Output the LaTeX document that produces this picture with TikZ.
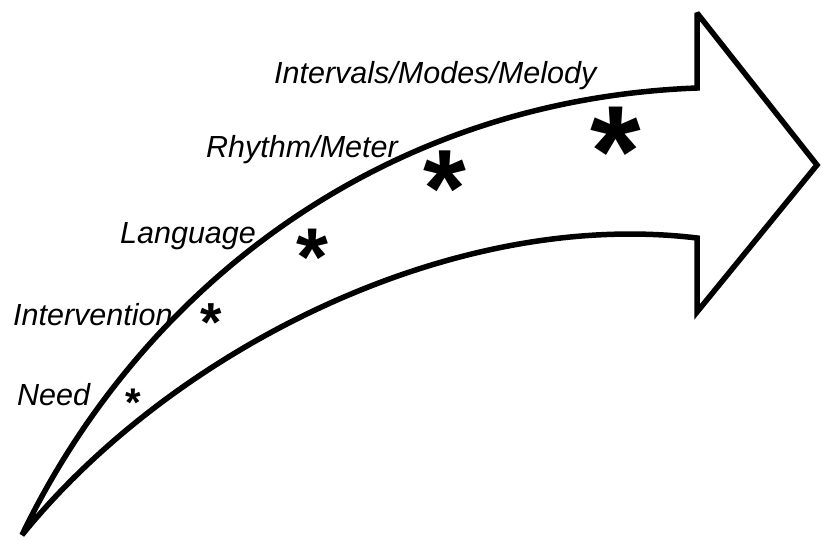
\documentclass[tikz,border=0pt]{standalone}
\usepackage{fontspec}
\setmainfont{Liberation Sans}
\usetikzlibrary{calc}

\tikzset{
  bigarrow/.style={draw=black, line width=5.5pt, line join=miter, miter limit=3, fill=white},
  stagelabel/.style={anchor=base west, inner sep=0pt,
    font=\fontsize{30.5}{36}\selectfont\itshape},
  stagestar/.style={anchor=base, inner sep=0pt}
}

\begin{document}
\begin{tikzpicture}[x=1pt, y=-1pt]
  \useasboundingbox (0,0) rectangle (823,539);

  % corner points of the curved block arrow
  \coordinate (tail)   at (22,535);
  \coordinate (uppend) at (697,88);
  \coordinate (barbtop) at (697,13);
  \coordinate (head)   at (817,165);
  \coordinate (barbbot) at (697,312);
  \coordinate (lowend) at (697,238);

  \path[bigarrow] (tail) .. controls (140,290) and (380,100) .. (uppend)
    -- (barbtop) -- (head) -- (barbbot) -- (lowend)
    .. controls (450,208) and (170,352) .. (tail) -- cycle;

  % stage names along the upper edge
  \node[stagelabel] (need)  at (17,405)  {Need};
  \node[stagelabel] (intv)  at (13,325)  {Intervention};
  \node[stagelabel] (lang)  at (120,243) {Language};
  \node[stagelabel] (rhy)   at (206,157) {Rhythm/Meter};
  \node[stagelabel] (mel)   at (274,83)  {Intervals/Modes/Melody};

  % growing asterisks inside the arrow
  \node[stagestar, font=\fontsize{40}{40}\selectfont\bfseries]  (s1) at (133,416) {*};
  \node[stagestar, font=\fontsize{55}{55}\selectfont\bfseries]  (s2) at (211,341) {*};
  \node[stagestar, font=\fontsize{82}{82}\selectfont\bfseries]  (s3) at (312,285) {*};
  \node[stagestar, font=\fontsize{110}{110}\selectfont\bfseries] (s4) at (445,226) {*};
  \node[stagestar, font=\fontsize{130}{130}\selectfont\bfseries] (s5) at (616,196) {*};
\end{tikzpicture}
\end{document}
